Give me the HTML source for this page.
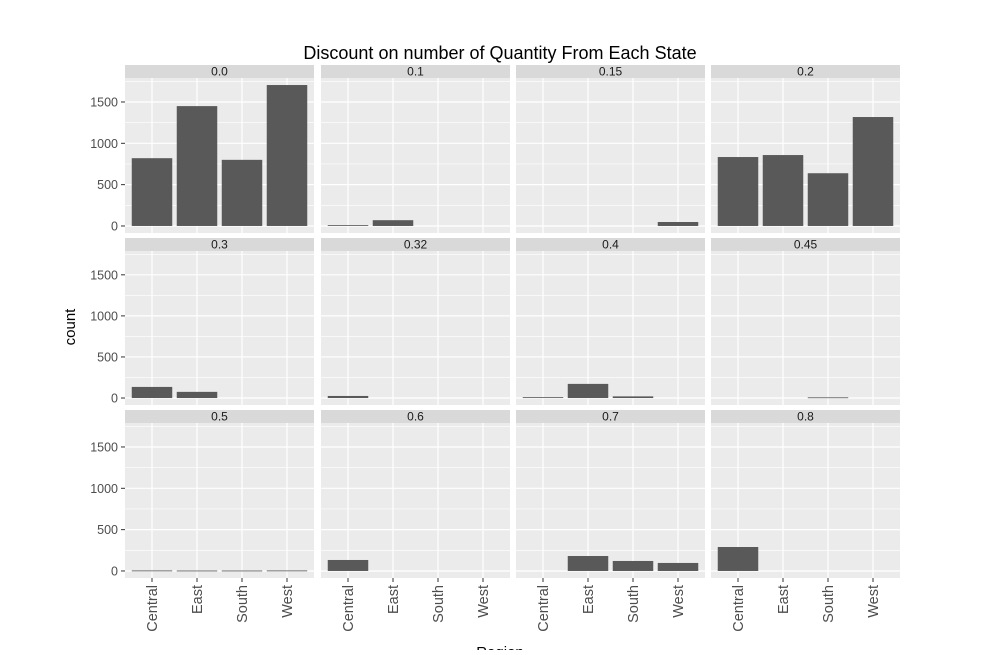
<!DOCTYPE html>
<html><head><meta charset="utf-8"><style>
body{margin:0;background:#fff;}
svg text{font-family:"Liberation Sans","DejaVu Sans",sans-serif;}
</style></head><body>
<svg id="chart" width="1000" height="650" xmlns="http://www.w3.org/2000/svg">
<rect width="1000" height="650" fill="#fff"/>
<text x="500" y="59" font-size="18" text-anchor="middle" fill="#000">Discount on number of Quantity From Each State</text>
<text x="0" y="0" transform="translate(75,327) rotate(-90)" font-size="15" text-anchor="middle" fill="#000">count</text>
<text x="500" y="657" font-size="15" text-anchor="middle" fill="#000">Region</text>
</svg>
<script>
const categories = ["Central","East","South","West"];
const facets = ["0.0","0.1","0.15","0.2","0.3","0.32","0.4","0.45","0.5","0.6","0.7","0.8"];
const counts00 = [820,1450,800,1705];
const counts01 = [10,70,0,0];
const counts015 = [0,0,0,48];
const counts02 = [834,858,638,1318];
const counts03 = [135,75,0,0];
const counts032 = [25,0,0,0];
const counts04 = [10,172,20,0];
const counts045 = [0,0,8,0];
const counts05 = [6,5,5,6];
const counts06 = [133,0,0,0];
const counts07 = [0,181,121,97];
const counts08 = [290,0,0,0];
const seriesValues = [counts00,counts01,counts015,counts02,counts03,counts032,counts04,counts045,counts05,counts06,counts07,counts08];
const yTicks = [0,500,1000,1500];
const yMinor = [250,750,1250,1750];

const svg = document.getElementById('chart');
const NS = "http://www.w3.org/2000/svg";
function mk(tag, attrs, parent){const e=document.createElementNS(NS,tag);for(const k in attrs)e.setAttribute(k,attrs[k]);(parent||svg).appendChild(e);return e;}
const colX=[125,321,516,711], panelW=189;
const rowStripY=[65,238,410], stripH=13;
const yDom=[-85,1790];
for(let f=0;f<facets.length;f++){
  const c=f%4, r=Math.floor(f/4);
  const x0=colX[c], pTop=rowStripY[r]+stripH, pH=[155,154,155][r];
  const yS=v=>pTop+pH-(v-yDom[0])/(yDom[1]-yDom[0])*pH;
  const unit=panelW/(categories.length-1+1.2);
  const xS=i=>x0+unit*(0.6+i);
  const g=mk('g',{});
  
  
  const bg=mk('rect',{x:x0,y:pTop,width:panelW,height:pH,fill:'#ebebeb'},g);
  
  
  const st=mk('rect',{x:x0,y:rowStripY[r],width:panelW,height:stripH,fill:'#d9d9d9'},g);
  
  
  const stt=mk('text',{x:x0+panelW/2,y:rowStripY[r]+10.5,'font-size':12,'text-anchor':'middle',fill:'#1a1a1a'},g);
  stt.textContent=facets[f];
  
  
  yMinor.forEach(v=>{const y=yS(v);if(y>pTop)mk('line',{x1:x0,x2:x0+panelW,y1:y,y2:y,stroke:'#fff','stroke-width':0.6},g);});
  yTicks.forEach(v=>{const y=yS(v);mk('line',{x1:x0,x2:x0+panelW,y1:y,y2:y,stroke:'#fff','stroke-width':1.2},g);});
  categories.forEach((cat,i)=>mk('line',{x1:xS(i),x2:xS(i),y1:pTop,y2:pTop+pH,stroke:'#fff','stroke-width':1.2},g));
  seriesValues[f].forEach((v,i)=>{
    if(v<=0)return;
    const b=mk('rect',{x:xS(i)-unit*0.45,y:yS(v),width:unit*0.9,height:Math.max(yS(0)-yS(v),0.8),fill:'#595959'},g);
    
    
  });
  if(c===0){
    yTicks.forEach(v=>{const y=yS(v);
      mk('line',{x1:x0-4,x2:x0,y1:y,y2:y,stroke:'#333','stroke-width':1},g);
      const t=mk('text',{x:x0-7,y:y+4.5,'font-size':12.5,'text-anchor':'end',fill:'#4d4d4d'},g);
      t.textContent=v;
      
      
    });
  }
  if(r===2){
    categories.forEach((cn,i)=>{const x=xS(i);
      mk('line',{x1:x,x2:x,y1:pTop+pH,y2:pTop+pH+4,stroke:'#333','stroke-width':1},g);
      const t=mk('text',{x:0,y:0,transform:`translate(${x+5},${pTop+pH+7}) rotate(-90)`,'font-size':14.5,'text-anchor':'end',fill:'#4d4d4d'},g);
      t.textContent=cn;
      
      
    });
  }
}
</script>
</body></html>
